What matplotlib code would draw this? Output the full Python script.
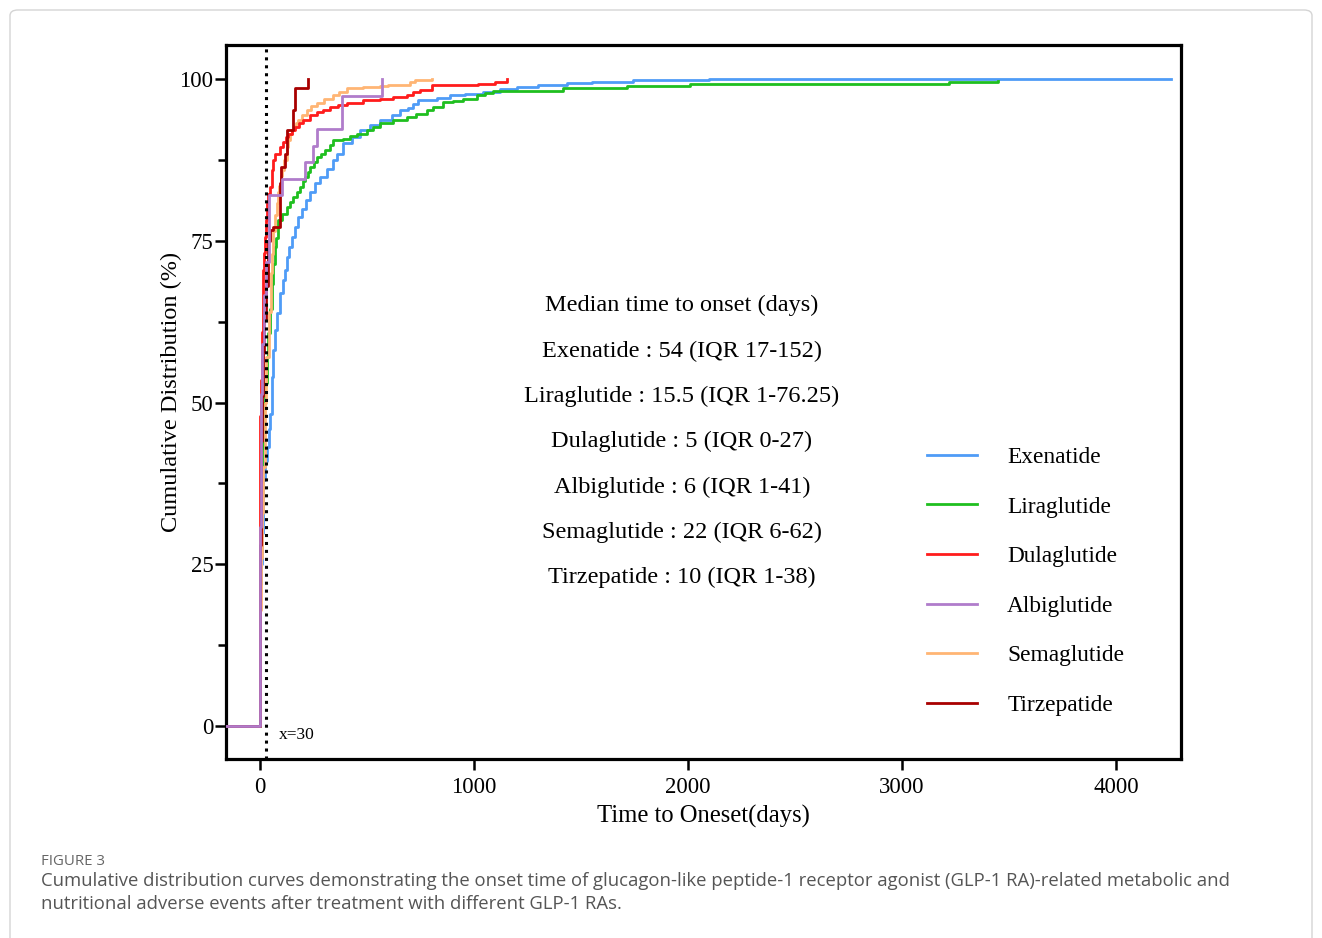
import numpy as np
import matplotlib
matplotlib.use("Agg")
import matplotlib.pyplot as plt
from matplotlib.ticker import MultipleLocator
from matplotlib.patches import FancyBboxPatch

# onset time (days) and cumulative share (%), step points
exenatide_days = [0, 4, 8, 12, 16, 24, 31, 40, 47, 54, 58, 62, 70, 81, 93, 106, 117, 128, 137, 148,
                  164, 179, 195, 215, 234, 257, 280, 311, 343, 358, 389, 428, 467, 514, 561, 615,
                  654, 690, 716, 740, 827, 888, 960, 1042, 1120, 1200, 1300, 1434, 1550, 1743,
                  2100, 4257]
exenatide_pct = [22, 25, 29.8, 34, 38, 41, 43.2, 46, 48.3, 51, 54, 58.1, 61.2, 63.8, 66.9, 68.9,
                 70.5, 72.5, 74.1, 75.6, 77.2, 78.7, 80, 81.3, 82.6, 83.9, 84.9, 86.2, 87.5, 88.5,
                 90.1, 91.1, 92.1, 92.9, 93.7, 94.4, 95.2, 95.6, 96.2, 96.8, 97.1, 97.5, 97.8,
                 98.1, 98.5, 98.8, 99.1, 99.4, 99.6, 99.85, 100, 100]

liraglutide_days = [0, 1, 3, 6, 10, 15.5, 23, 31, 39, 47, 55, 62, 70, 76, 86, 101, 125, 140, 156,
                    172, 187, 200, 210, 222, 234, 250, 265, 285, 304, 325, 343, 389, 420, 452, 498,
                    530, 561, 623, 686, 730, 779, 810, 857, 900, 950, 1012, 1051, 1090, 1417, 1713,
                    2009, 3220, 3449]
liraglutide_pct = [18, 27, 32, 38, 43, 50, 53, 57, 60.7, 64.5, 68.4, 71.5, 74, 75.5, 78.2, 79.2,
                   80.3, 81, 81.8, 82.6, 83.4, 84.2, 84.9, 85.7, 86.4, 87.2, 88, 88.5, 89, 89.8,
                   90.6, 90.8, 91.2, 91.6, 92.1, 92.6, 93.2, 93.7, 94.2, 94.7, 95.2, 95.7, 96.5,
                   96.7, 97, 97.5, 97.9, 98.2, 98.7, 99.0, 99.3, 99.6, 99.8]

dulaglutide_days = [0, 1, 2, 3, 5, 7, 9, 12, 15, 19, 23, 28, 31, 39, 47, 55, 62, 70, 93, 108, 120,
                    131, 148, 164, 183, 202, 234, 265, 296, 327, 365, 405, 483, 561, 620, 685, 715,
                    748, 804, 1019, 1098, 1154]
dulaglutide_pct = [38, 44, 48, 50, 53.5, 57, 61, 65, 70.5, 73.1, 75.6, 78.2, 80.8, 82.3, 83.4, 86,
                   87.5, 88.5, 89.5, 90.3, 91, 91.6, 92.1, 92.6, 93.2, 93.7, 94.4, 94.9, 95.3,
                   95.7, 96.1, 96.4, 96.8, 97.0, 97.2, 97.5, 98, 98.3, 99.1, 99.3, 99.6, 100]

albiglutide_days = [0, 1, 3, 6, 10, 20, 30, 41, 101, 210, 248, 267, 383, 569]
albiglutide_pct = [23.1, 30.8, 41.0, 51.3, 59.0, 66.7, 71.8, 82.1, 84.6, 87.2, 89.7, 92.3, 97.4, 100]

semaglutide_days = [0, 2, 6, 10, 15, 22, 30, 40, 50, 55, 62, 70, 78, 85, 90, 96, 101, 110, 125, 132,
                    140, 150, 160, 170, 178, 198, 218, 240, 265, 300, 341, 370, 405, 480, 561, 600,
                    700, 724, 802]
semaglutide_pct = [10, 18, 26, 33, 40, 50, 57, 64, 70, 73, 76.6, 79, 80.8, 82.5, 83.5, 85, 86,
                   87.5, 89.5, 90.6, 91.6, 92.2, 92.8, 93.3, 93.7, 94.5, 95.2, 95.8, 96.3, 97,
                   97.5, 98.1, 98.6, 98.8, 98.9, 99.1, 99.6, 99.9, 100]

tirzepatide_days = [0, 1, 3, 6, 10, 15, 20, 28, 38, 47, 61, 93, 100, 115, 128, 156, 164, 226]
tirzepatide_pct = [20, 28, 36, 44, 51, 58, 63, 68, 75, 76.7, 77.1, 84, 86.5, 88.5, 92.1, 95.2, 98.6,
                   100]

drugs = ["Exenatide", "Liraglutide", "Dulaglutide", "Albiglutide", "Semaglutide", "Tirzepatide"]
colors = ["#4f9cf7", "#1fbf1f", "#ff1c1c", "#b07ccb", "#ffb574", "#a80000"]
series = [(exenatide_days, exenatide_pct), (liraglutide_days, liraglutide_pct),
          (dulaglutide_days, dulaglutide_pct), (albiglutide_days, albiglutide_pct),
          (semaglutide_days, semaglutide_pct), (tirzepatide_days, tirzepatide_pct)]
medians = ["54 (IQR 17-152)", "15.5 (IQR 1-76.25)", "5 (IQR 0-27)", "6 (IQR 1-41)",
           "22 (IQR 6-62)", "10 (IQR 1-38)"]

XMIN, XMAX = -159, 4304

fig = plt.figure(figsize=(13.22, 9.38), dpi=100)
ax = fig.add_axes([226 / 1322, 1 - 759 / 938, (1181 - 226) / 1322, (759 - 45) / 938])

serif = "Liberation Serif"
draw_order = [0, 1, 4, 2, 5, 3]
handles = {}
for k, i in enumerate(draw_order):
    d, p = series[i]
    x = np.r_[XMIN, d]
    y = np.r_[0, p]
    ln, = ax.plot(x, y, drawstyle="steps-post", color=colors[i], lw=2.0, zorder=3 + k * 0.1)
    handles[i] = ln

# dotted reference line at 30 days
ax.axvline(30, color="black", ls=(0, (1, 1.6)), lw=2.2, zorder=5)
ax.text(89, -1.4, "x=30", fontsize=12.5, family=serif, va="center", ha="left")

ax.set_xlim(XMIN, XMAX)
ax.set_ylim(-5.1, 105.3)
ax.set_xticks([0, 1000, 2000, 3000, 4000])
ax.set_yticks([0, 25, 50, 75, 100])
ax.yaxis.set_minor_locator(MultipleLocator(12.5))
ax.tick_params(axis="both", which="major", direction="out", length=8, width=1.8,
               labelsize=16.5, labelfontfamily=serif)
ax.tick_params(axis="y", which="minor", direction="out", length=6, width=1.8)
ax.tick_params(axis="y", pad=1)
ax.tick_params(axis="x", pad=5)
for s in ax.spines.values():
    s.set_linewidth(2.3)

ax.set_xlabel("Time to Oneset(days)", fontsize=17.7, family=serif, labelpad=5)
ax.set_ylabel("Cumulative Distribution (%)", fontsize=17.5, family=serif)
ax.yaxis.set_label_coords(-0.046, 0.514)

# median onset summary
ys = [0.571, 0.508, 0.445, 0.381, 0.318, 0.255]
ax.text(0.4775, 0.6357, "Median time to onset (days)", transform=ax.transAxes,
        ha="center", va="center", fontsize=17.5, family=serif)
for name, m, yy in zip(drugs, medians, ys):
    ax.text(0.4775, yy, f"{name} : {m}", transform=ax.transAxes,
            ha="center", va="center", fontsize=17.5, family=serif)

leg = ax.legend([handles[i] for i in range(6)], drugs, loc="upper left",
                bbox_to_anchor=(0.734, 0.4374), frameon=False, borderpad=0, borderaxespad=0,
                handlelength=2.15, handletextpad=1.29, labelspacing=1.21,
                prop={"family": serif, "size": 16.8})

# page frame and caption
fig.patches.append(FancyBboxPatch((10 / 1322, -0.05), 1302 / 1322, 1 - 10 / 938 + 0.05,
                                  boxstyle="round,pad=0,rounding_size=0.006",
                                  transform=fig.transFigure, fill=False,
                                  edgecolor="#d4d4d4", lw=1.0))
fig.text(41 / 1322, 1 - 861 / 938, "FIGURE 3", fontsize=10.8, color="#666666",
         family="Open Sans", va="center")
fig.text(41 / 1322, 1 - 881 / 938,
         "Cumulative distribution curves demonstrating the onset time of glucagon-like peptide-1 "
         "receptor agonist (GLP-1 RA)-related metabolic and",
         fontsize=13.3, color="#555555", family="Open Sans", va="center")
fig.text(41 / 1322, 1 - 904 / 938,
         "nutritional adverse events after treatment with different GLP-1 RAs.",
         fontsize=13.3, color="#555555", family="Open Sans", va="center")

fig.savefig("out.png", dpi=100)
